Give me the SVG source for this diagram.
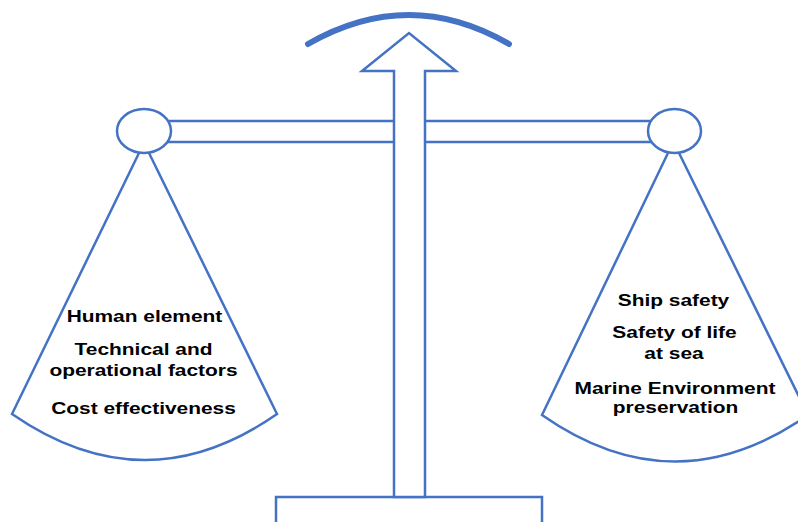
<svg xmlns="http://www.w3.org/2000/svg" width="798" height="522" viewBox="0 0 798 522">
<style>
.s{fill:none;stroke:#4472C4;stroke-width:2.5;stroke-linejoin:miter}
.w{fill:#ffffff;stroke:#4472C4;stroke-width:2.5}
.t{font-family:"Liberation Sans",Arial,sans-serif;font-weight:bold;font-size:17px;fill:#000000;text-anchor:middle}
</style>
<rect width="798" height="522" fill="#ffffff"/>
<g id="connectors">
<path class="s" d="M144,121 L394,121 M144,142 L394,142 M425,121 L674,121 M425,142 L674,142"/>
</g>
<g id="arc">
<path d="M308,44 Q409,-14 509,44" fill="none" stroke="#4472C4" stroke-width="6" stroke-linecap="round"/>
</g>
<g id="base">
<path class="s" d="M276,524 L276,497 L542,497 L542,524"/>
</g>
<g id="arrow">
<polygon class="w" points="394,497 394,71 362,71 409,33 456,71 425,71 425,497"/>
</g>
<g id="left-pan">
<path class="s" d="M139,153 L12,414 Q145,506 277,414 L149,153"/>
<ellipse class="w" cx="144" cy="131" rx="27" ry="22"/>
<text class="t" transform="translate(144.5,322) scale(1.23,1)">Human element</text>
<text class="t" transform="translate(143.5,355) scale(1.23,1)">Technical and</text>
<text class="t" transform="translate(143.5,376) scale(1.23,1)">operational factors</text>
<text class="t" transform="translate(143.5,414) scale(1.23,1)">Cost effectiveness</text>
</g>
<g id="right-pan">
<path class="s" d="M668,153 L542,415 Q675,508 808,415 L679,153"/>
<ellipse class="w" cx="674.5" cy="131" rx="26.5" ry="22"/>
<text class="t" transform="translate(673.5,306) scale(1.23,1)">Ship safety</text>
<text class="t" transform="translate(674.5,338) scale(1.23,1)">Safety of life</text>
<text class="t" transform="translate(674,359) scale(1.23,1)">at sea</text>
<text class="t" transform="translate(675,394) scale(1.23,1)">Marine Environment</text>
<text class="t" transform="translate(675.5,413) scale(1.23,1)">preservation</text>
</g>
</svg>
